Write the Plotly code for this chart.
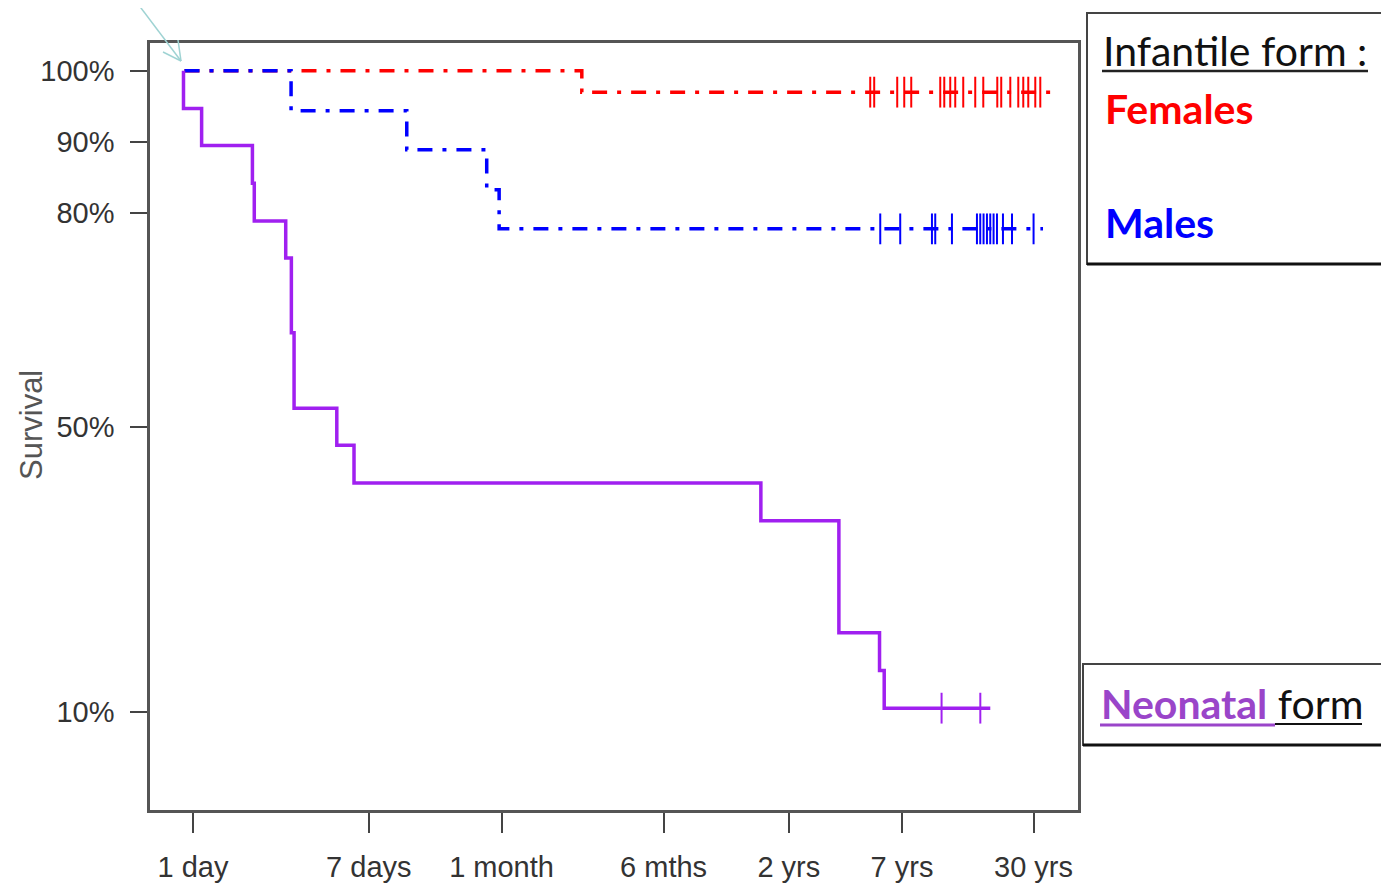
import plotly.graph_objects as go

# ---------------- data (time in days, survival in %) ----------------
neo_time = [0.90, 0.90, 1.10, 1.93, 1.97, 2.79, 2.97, 3.06, 4.91, 5.94, 536, 1271, 1993, 2099, 6790]
neo_surv = [100, 94.7, 89.5, 84.2, 78.9, 73.7, 63.2, 52.6, 47.4, 42.1, 36.8, 21.1, 15.8, 10.5, 10.5]
neo_cens = [3960, 6080]

fem_time = [0.91, 73.9, 13192]
fem_surv = [100, 97.0, 97.0]
fem_cens = [1798, 1879, 2424, 2620, 2831, 3902, 4080, 4359, 4607, 5033, 5748, 6283,
            7336, 7664, 8472, 9255, 9781, 10337, 11171, 11808]

mal_time = [0.91, 2.96, 10.65, 25.8, 29.6, 12168]
mal_surv = [100, 94.4, 88.9, 83.3, 77.8, 77.8]
mal_cens = [2009, 2506, 3560, 3692, 4442, 5858, 6076, 6302, 6544, 6787, 7041, 7311,
            7812, 8634, 10961]

x_tick_days = [1, 7, 30.4, 182.6, 730.5, 2556.75, 10957.5]
x_tick_text = ["1 day", "7 days", "1 month", "6 mths", "2 yrs", "7 yrs", "30 yrs"]
y_tick_vals = [10, 50, 80, 90, 100]
y_tick_text = ["10%", "50%", "80%", "90%", "100%"]

RED = "#ff0000"
BLUE = "#0000ff"
PURPLE = "#a020f0"
PURPLE_TXT = "#9a45c9"


def step_at(times, surv, t):
    v = surv[0]
    for ti, si in zip(times, surv):
        if ti <= t:
            v = si
    return v


fig = go.Figure()

dashdot = "15px,10px,4px,10px"

for times, surv, cens, col, dash in [
    (fem_time, fem_surv, fem_cens, RED, dashdot),
    (mal_time, mal_surv, mal_cens, BLUE, dashdot),
    (neo_time, neo_surv, neo_cens, PURPLE, "solid"),
]:
    fig.add_trace(go.Scatter(
        x=times, y=surv, mode="lines", line_shape="hv",
        line=dict(color=col, width=3.5, dash=dash), showlegend=False, hoverinfo="skip"))
    fig.add_trace(go.Scatter(
        x=cens, y=[step_at(times, surv, c) for c in cens], mode="markers",
        marker=dict(symbol="line-ns", size=22, line=dict(color=col, width=2)),
        showlegend=False, hoverinfo="skip"))

AXFONT = "Liberation Sans, Arial, sans-serif"
TICKFONT = dict(family=AXFONT, size=29, color="#333333")

fig.update_xaxes(
    type="log", range=[-0.2067, 4.2534],
    tickvals=x_tick_days, ticktext=x_tick_text, tickfont=TICKFONT,
    ticks="outside", ticklen=20, tickwidth=2, tickcolor="#444444",
    showline=True, mirror=True, linecolor="#555555", linewidth=2.5,
    showgrid=False, zeroline=False, ticklabelstandoff=9)
fig.update_yaxes(
    range=[-3.8, 103.9],
    tickvals=y_tick_vals, ticktext=y_tick_text, tickfont=TICKFONT,
    ticks="outside", ticklen=17, tickwidth=2, tickcolor="#444444",
    showline=True, mirror=True, linecolor="#555555", linewidth=2.5,
    showgrid=False, zeroline=False, ticklabelstandoff=10)

# page body adds an 8px offset; plot area placed at absolute 150..1078 x 43..810
OFF = 8
W, H = 1389 - OFF, 888 - OFF
L, R, T, B = 150, 1078, 43, 810


def px(xp):
    return (xp - L) / (R - L)


def py(yp):
    return (B - yp) / (B - T)


shapes = []
# arrow (light teal)
ARW = "#9fd3d3"
for (x0, y0, x1, y1) in [(138, 4, 181, 61), (163, 52, 181, 61), (178, 40, 181, 61)]:
    shapes.append(dict(type="line", xref="paper", yref="paper",
                       x0=px(x0), y0=py(y0), x1=px(x1), y1=py(y1),
                       line=dict(color=ARW, width=1.5)))
# legend boxes
shapes.append(dict(type="rect", xref="paper", yref="paper",
                   x0=px(1087), y0=py(264), x1=px(1400), y1=py(13),
                   line=dict(color="#444444", width=2)))
shapes.append(dict(type="line", xref="paper", yref="paper",
                   x0=px(1087), y0=py(264), x1=px(1400), y1=py(264),
                   line=dict(color="#111111", width=3)))
shapes.append(dict(type="rect", xref="paper", yref="paper",
                   x0=px(1083), y0=py(745), x1=px(1400), y1=py(664),
                   line=dict(color="#444444", width=2)))
shapes.append(dict(type="line", xref="paper", yref="paper",
                   x0=px(1083), y0=py(745), x1=px(1400), y1=py(745),
                   line=dict(color="#111111", width=3)))
# underlines
shapes.append(dict(type="line", xref="paper", yref="paper",
                   x0=px(1102), y0=py(71), x1=px(1368), y1=py(71),
                   line=dict(color="#222222", width=2.5)))
shapes.append(dict(type="line", xref="paper", yref="paper",
                   x0=px(1100), y0=py(725), x1=px(1275), y1=py(725),
                   line=dict(color=PURPLE_TXT, width=3)))
shapes.append(dict(type="line", xref="paper", yref="paper",
                   x0=px(1275), y0=py(724), x1=px(1362), y1=py(724),
                   line=dict(color="#111111", width=2)))

LEGFONT = "Lato, Carlito, Calibri, Liberation Sans, sans-serif"
annotations = [
    dict(text="Infantile form :", x=px(1101), y=py(51), font=dict(family=LEGFONT, size=41, color="#111111")),
    dict(text="<b>Females</b>", x=px(1103), y=py(108), font=dict(family=LEGFONT, size=41, color=RED)),
    dict(text="<b>Males</b>", x=px(1103), y=py(222), font=dict(family=LEGFONT, size=41, color=BLUE)),
    dict(text="<b>Neonatal</b><span style='color:#111111'> form</span>", x=px(1099), y=py(703),
         font=dict(family=LEGFONT, size=41, color=PURPLE_TXT)),
]
for a in annotations:
    a.update(xref="paper", yref="paper", xanchor="left", yanchor="middle", showarrow=False)
annotations.append(dict(text="Survival", xref="paper", yref="paper", x=px(31), y=py(425),
                        textangle=-90, showarrow=False, xanchor="center", yanchor="middle",
                        font=dict(family=AXFONT, size=31, color="#555555")))

fig.update_layout(
    width=W, height=H,
    margin=dict(l=L - OFF, r=W - (R - OFF), t=T - OFF, b=H - (B - OFF), autoexpand=False),
    paper_bgcolor="white", plot_bgcolor="white",
    shapes=shapes, annotations=annotations,
)

fig.write_html("out.html")
